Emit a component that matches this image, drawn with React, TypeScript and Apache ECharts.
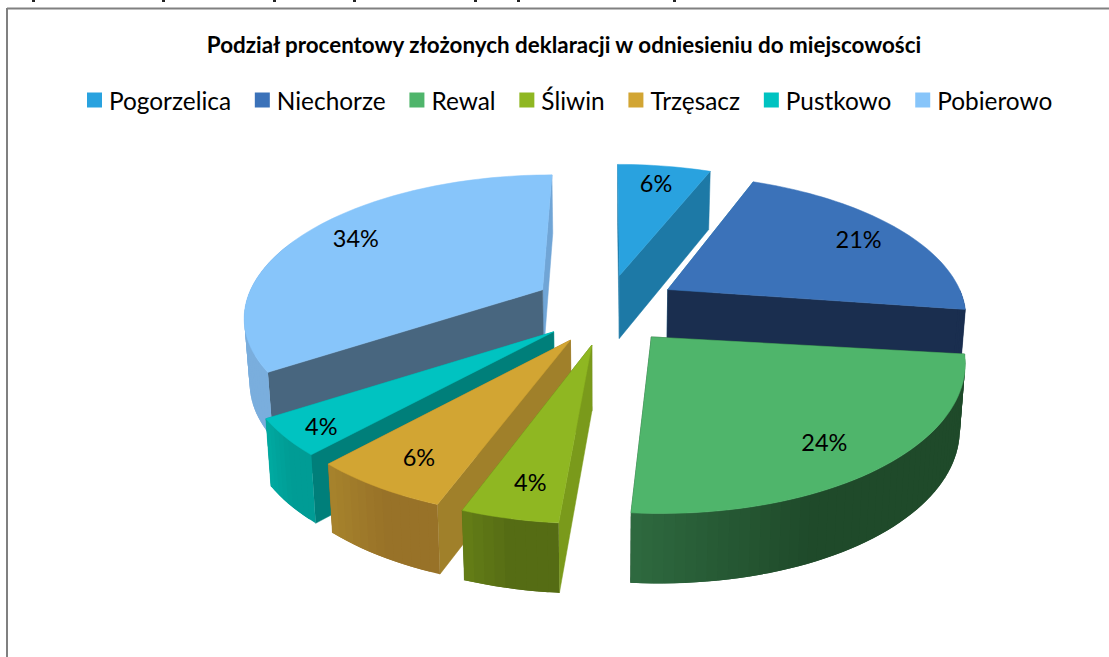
import React, { useEffect, useRef } from "react";
import * as echarts from "echarts";

const categories = ["Pogorzelica", "Niechorze", "Rewal", "Śliwin", "Trzęsacz", "Pustkowo", "Pobierowo"];
const values = [6, 21, 23.7, 4.2, 6, 4, 34];
const title = "Podział procentowy złożonych deklaracji w odniesieniu do miejscowości";

const topColors = ["#29a2df", "#3b72b9", "#4fb56b", "#8fb722", "#d2a533", "#00c3c1", "#87c5fa"];
const startWallColors = ["#1d79a6", "#1d79a6", "#1f4a2a", "#7a9a1b", "#a0802a", "#007f7a", "#48667f"];
const endWallColors = ["#1d79a6", "#1a2e4f", "#1f4a2a", "#5c7515", "#987228", "#009c95", "#70a5d6"];
const rimGradients = [
  ["#1d79a6", "#1d79a6"],
  ["#1a2e4f", "#1a2e4f"],
  ["#2f6b40", "#1f4a2a"],
  ["#668017", "#556c14"],
  ["#a8842c", "#987228"],
  ["#00aba2", "#009c95"],
  ["#7aaedd", "#7aaedd"],
];
const explodes = [0.23, 0.24, 0.23, 0.23, 0.23, 0.23, 0.25];
const labelRadii = [0.79, 0.81, 0.78, 0.78, 0.78, 0.85, 0.8];
const labelNudges = [[0, -3], [3, 0], [0, 8], [0, 9], [-7, 8], [-9, 7], [3, -4]];
const paintOrder = [0, 1, 6, 2, 5, 4, 3];
const scrapsX = [32, 162, 273, 353, 474, 517, 673];

const CX = 607;
const CY = 306;
const RADIUS = 298;
const FLAT = 140;
const PERSP = 0.173;
const APEX_SINK = 0.042;
const FONT = "Lato, 'Open Sans', sans-serif";

const total = values.reduce((a, b) => a + b, 0);

function project(X: number, Z: number, lower: boolean) {
  const s = 1 / (1 + PERSP * Z);
  let x = CX + RADIUS * X * s;
  let y = CY - FLAT * Z * s;
  if (lower) {
    x = CX + (x - CX) * 0.985;
    y += 64 - 5 * Z;
  }
  return [x, y];
}

function renderSlice(index: number) {
  return (_params: any, api: any) => {
    const value = api.value(0);
    const before = values.slice(0, index).reduce((a, b) => a + b, 0);
    const a0 = (before / total) * Math.PI * 2;
    const a1 = ((before + value) / total) * Math.PI * 2;
    const mid = (a0 + a1) / 2;
    const ox = explodes[index] * Math.sin(mid);
    const oz = explodes[index] * Math.cos(mid);
    const sink = APEX_SINK * Math.max(0, -Math.cos(mid));
    const at = (t: number, r: number, lower: boolean) =>
      project(ox + r * Math.sin(t), oz + r * Math.cos(t) - (r === 0 ? sink : 0), lower);
    const arc = (from: number, to: number, lower: boolean) => {
      const n = Math.max(2, Math.ceil(Math.abs(to - from) / 0.03));
      const pts: number[][] = [];
      for (let i = 0; i <= n; i++) pts.push(at(from + ((to - from) * i) / n, 1, lower));
      return pts;
    };
    const poly = (points: number[][], fill: string, outlined = true) => ({
      type: "polygon",
      shape: { points },
      style: outlined ? { fill, stroke: fill, lineWidth: 0.5 } : { fill },
    });
    const wall = (t: number, fill: string) =>
      poly([at(t, 0, false), at(t, 1, false), at(t, 1, true), at(t, 0, true)], fill);

    const walls = [
      { z: Math.cos(a0), el: wall(a0, startWallColors[index]) },
      { z: Math.cos(a1), el: wall(a1, endWallColors[index]) },
    ].sort((p, q) => q.z - p.z);

    const children: any[] = walls.map((w) => w.el);

    const rimFrom = Math.max(a0, Math.PI / 2);
    const rimTo = Math.min(a1, Math.PI * 1.62);
    if (rimTo > rimFrom) {
      const upper = arc(rimFrom, rimTo, false);
      const lowerArc = arc(rimFrom, rimTo, true);
      const xs = upper.map((p) => p[0]);
      const xMin = Math.min(...xs);
      const xMax = Math.max(...xs);
      const [c0, c1] = rimGradients[index];
      const last = upper.length - 1;
      // Each quad runs over into the next, so no seam shows between them.
      const steps = upper.map((_, i) => i).slice(0, last);
      if (upper[0][0] < upper[last][0]) steps.reverse();
      for (const i of steps) {
        const far = upper[0][0] < upper[last][0] ? Math.max(i - 1, 0) : Math.min(i + 2, last);
        const near = upper[0][0] < upper[last][0] ? i + 1 : i;
        const t = Math.min(1, (upper[i][0] - xMin) / (0.55 * (xMax - xMin)));
        const fill = echarts.color.lerp(t, [c0, c1]);
        children.push(poly([upper[near], upper[far], lowerArc[far], lowerArc[near]], fill, false));
      }
    }

    children.push(poly([at(a0, 0, false), ...arc(a0, a1, false)], topColors[index]));

    const [lx, ly] = at(mid, labelRadii[index], false);
    children.push({
      type: "text",
      x: lx + labelNudges[index][0],
      y: ly + labelNudges[index][1],
      style: {
        text: `${Math.round(value)}%`,
        fill: "#000",
        font: `23.5px ${FONT}`,
        align: "center",
        verticalAlign: "middle",
      },
    });
    return { type: "group", children };
  };
}

export default function App() {
  const ref = useRef<HTMLDivElement>(null);
  useEffect(() => {
    document.body.style.margin = "0";
    const chart = echarts.init(ref.current!, null, { renderer: "svg" });
    chart.setOption({
      animation: false,
      backgroundColor: "#fff",
      title: {
        text: title,
        left: 559,
        top: 28,
        textAlign: "center",
        textStyle: { fontFamily: FONT, fontSize: 22.4, fontWeight: "bold", color: "#000" },
      },
      legend: {
        data: categories.map((name) => ({ name, icon: "rect" })),
        left: 82,
        top: 83,
        itemWidth: 15,
        itemHeight: 15,
        itemGap: 23.8,
        selectedMode: false,
        textStyle: { fontFamily: FONT, fontSize: 24.4, color: "#000", padding: [0, 0, 0, 2] },
      },
      graphic: [
        { type: "line", shape: { x1: 7, y1: 8.5, x2: 1109, y2: 8.5 }, style: { stroke: "#808080", lineWidth: 2 } },
        { type: "line", shape: { x1: 7, y1: 8, x2: 7, y2: 657 }, style: { stroke: "#808080", lineWidth: 2 } },
        ...scrapsX.map((x) => ({ type: "rect", shape: { x, y: 0, width: 3, height: 2 }, style: { fill: "#222" } })),
      ],
      series: paintOrder.map((i, order) => ({
        type: "custom",
        name: categories[i],
        coordinateSystem: "none",
        z: 2 + order,
        silent: true,
        itemStyle: { color: topColors[i] },
        data: [[values[i]]],
        renderItem: renderSlice(i),
      })),
    });
    return () => chart.dispose();
  }, []);
  return <div ref={ref} style={{ position: "absolute", left: 0, top: 0, width: 1109, height: 657 }} />;
}
